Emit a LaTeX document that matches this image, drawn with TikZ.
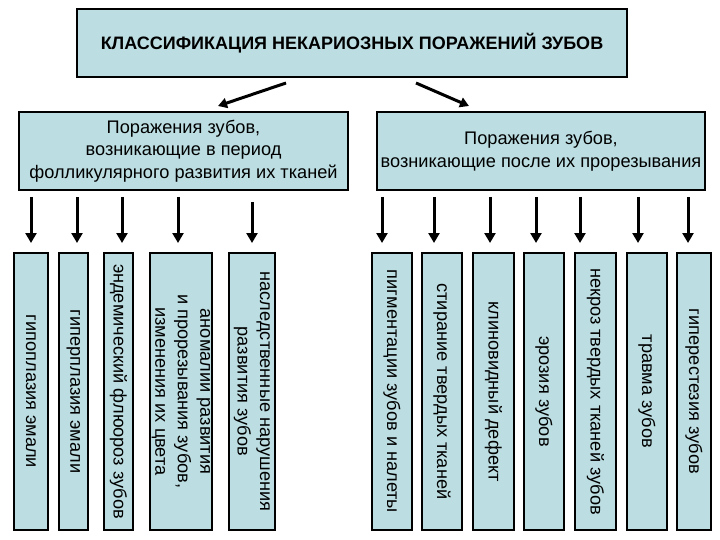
\documentclass[tikz,border=0pt]{standalone}
\usepackage{fontspec}
\setmainfont{Liberation Sans}
\usetikzlibrary{arrows.meta}
\definecolor{boxfill}{RGB}{188,222,226}
\tikzset{
  box/.style={draw=black, line width=1.1pt, fill=boxfill, inner sep=0pt, align=center,
    font=\fontsize{18.2}{22.5}\selectfont},
  colbox/.style={box, rotate=-90, minimum width=277pt},
  arr/.style={line width=3pt, -{Triangle[length=10pt,width=11pt]}},
  arrt/.style={line width=3pt, -{Triangle[length=9pt,width=10pt]}}
}
\begin{document}
\begin{tikzpicture}[x=1pt,y=-1pt]
\useasboundingbox (0,0) rectangle (720,540);
% top
\node[box, minimum width=550pt, minimum height=68pt, font=\fontsize{18}{22}\selectfont\bfseries] (top) at (352,43) {КЛАССИФИКАЦИЯ НЕКАРИОЗНЫХ ПОРАЖЕНИЙ ЗУБОВ};
\node[box, minimum width=329pt, minimum height=78pt] (lb) at (183.5,151) {Поражения зубов,\\возникающие в период\\фолликулярного развития их тканей};
\node[box, minimum width=328pt, minimum height=78pt] (rb) at (541,151) {Поражения зубов,\\возникающие после их прорезывания};
\coordinate (ta1) at (286,83); \coordinate (tb1) at (218,106);
\coordinate (ta2) at (416,83); \coordinate (tb2) at (469,106);
\draw[arrt] (ta1) -- (tb1);
\draw[arrt] (ta2) -- (tb2);
% left columns
\node[colbox, minimum height=34pt] (c1) at (31,391.5) {гипоплазия эмали};
\node[colbox, minimum height=29pt] (c2) at (73.5,391.5) {гиперплазия эмали};
\node[colbox, minimum height=29pt] (c3) at (118.5,391.5) {эндемический флюороз зубов};
\node[colbox, minimum height=62pt] (c4) at (181,391.5) {аномалии развития\\и прорезывания зубов,\\изменения их цвета};
\node[colbox, minimum height=46pt] (c5) at (252,391.5) {наследственные нарушения\\развития зубов};
% right columns
\node[colbox, minimum height=40pt] (r1) at (392,391.5) {пигментации зубов и налеты};
\node[colbox, minimum height=40pt] (r2) at (442,391.5) {стирание твердых тканей};
\node[colbox, minimum height=41pt] (r3) at (493.5,391.5) {клиновидный дефект};
\node[colbox, minimum height=40pt] (r4) at (544,391.5) {эрозия зубов};
\node[colbox, minimum height=41pt] (r5) at (595.5,391.5) {некроз твердых тканей зубов};
\node[colbox, minimum height=40pt] (r6) at (647,391.5) {травма зубов};
\node[colbox, minimum height=34pt] (r7) at (694,391.5) {гиперестезия зубов};
% arrows
\foreach \n/\x/\y in {1/31/197,2/77/197,3/122/197,4/178/197,5/252/202,
                      6/382/197,7/434/197,8/490/197,9/536/197,10/580/197,11/638/197,12/688/197}{
  \coordinate (s\n) at (\x,\y);
  \coordinate (e\n) at (\x,243);
  \draw[arr] (s\n) -- (e\n);
}
\end{tikzpicture}
\end{document}
